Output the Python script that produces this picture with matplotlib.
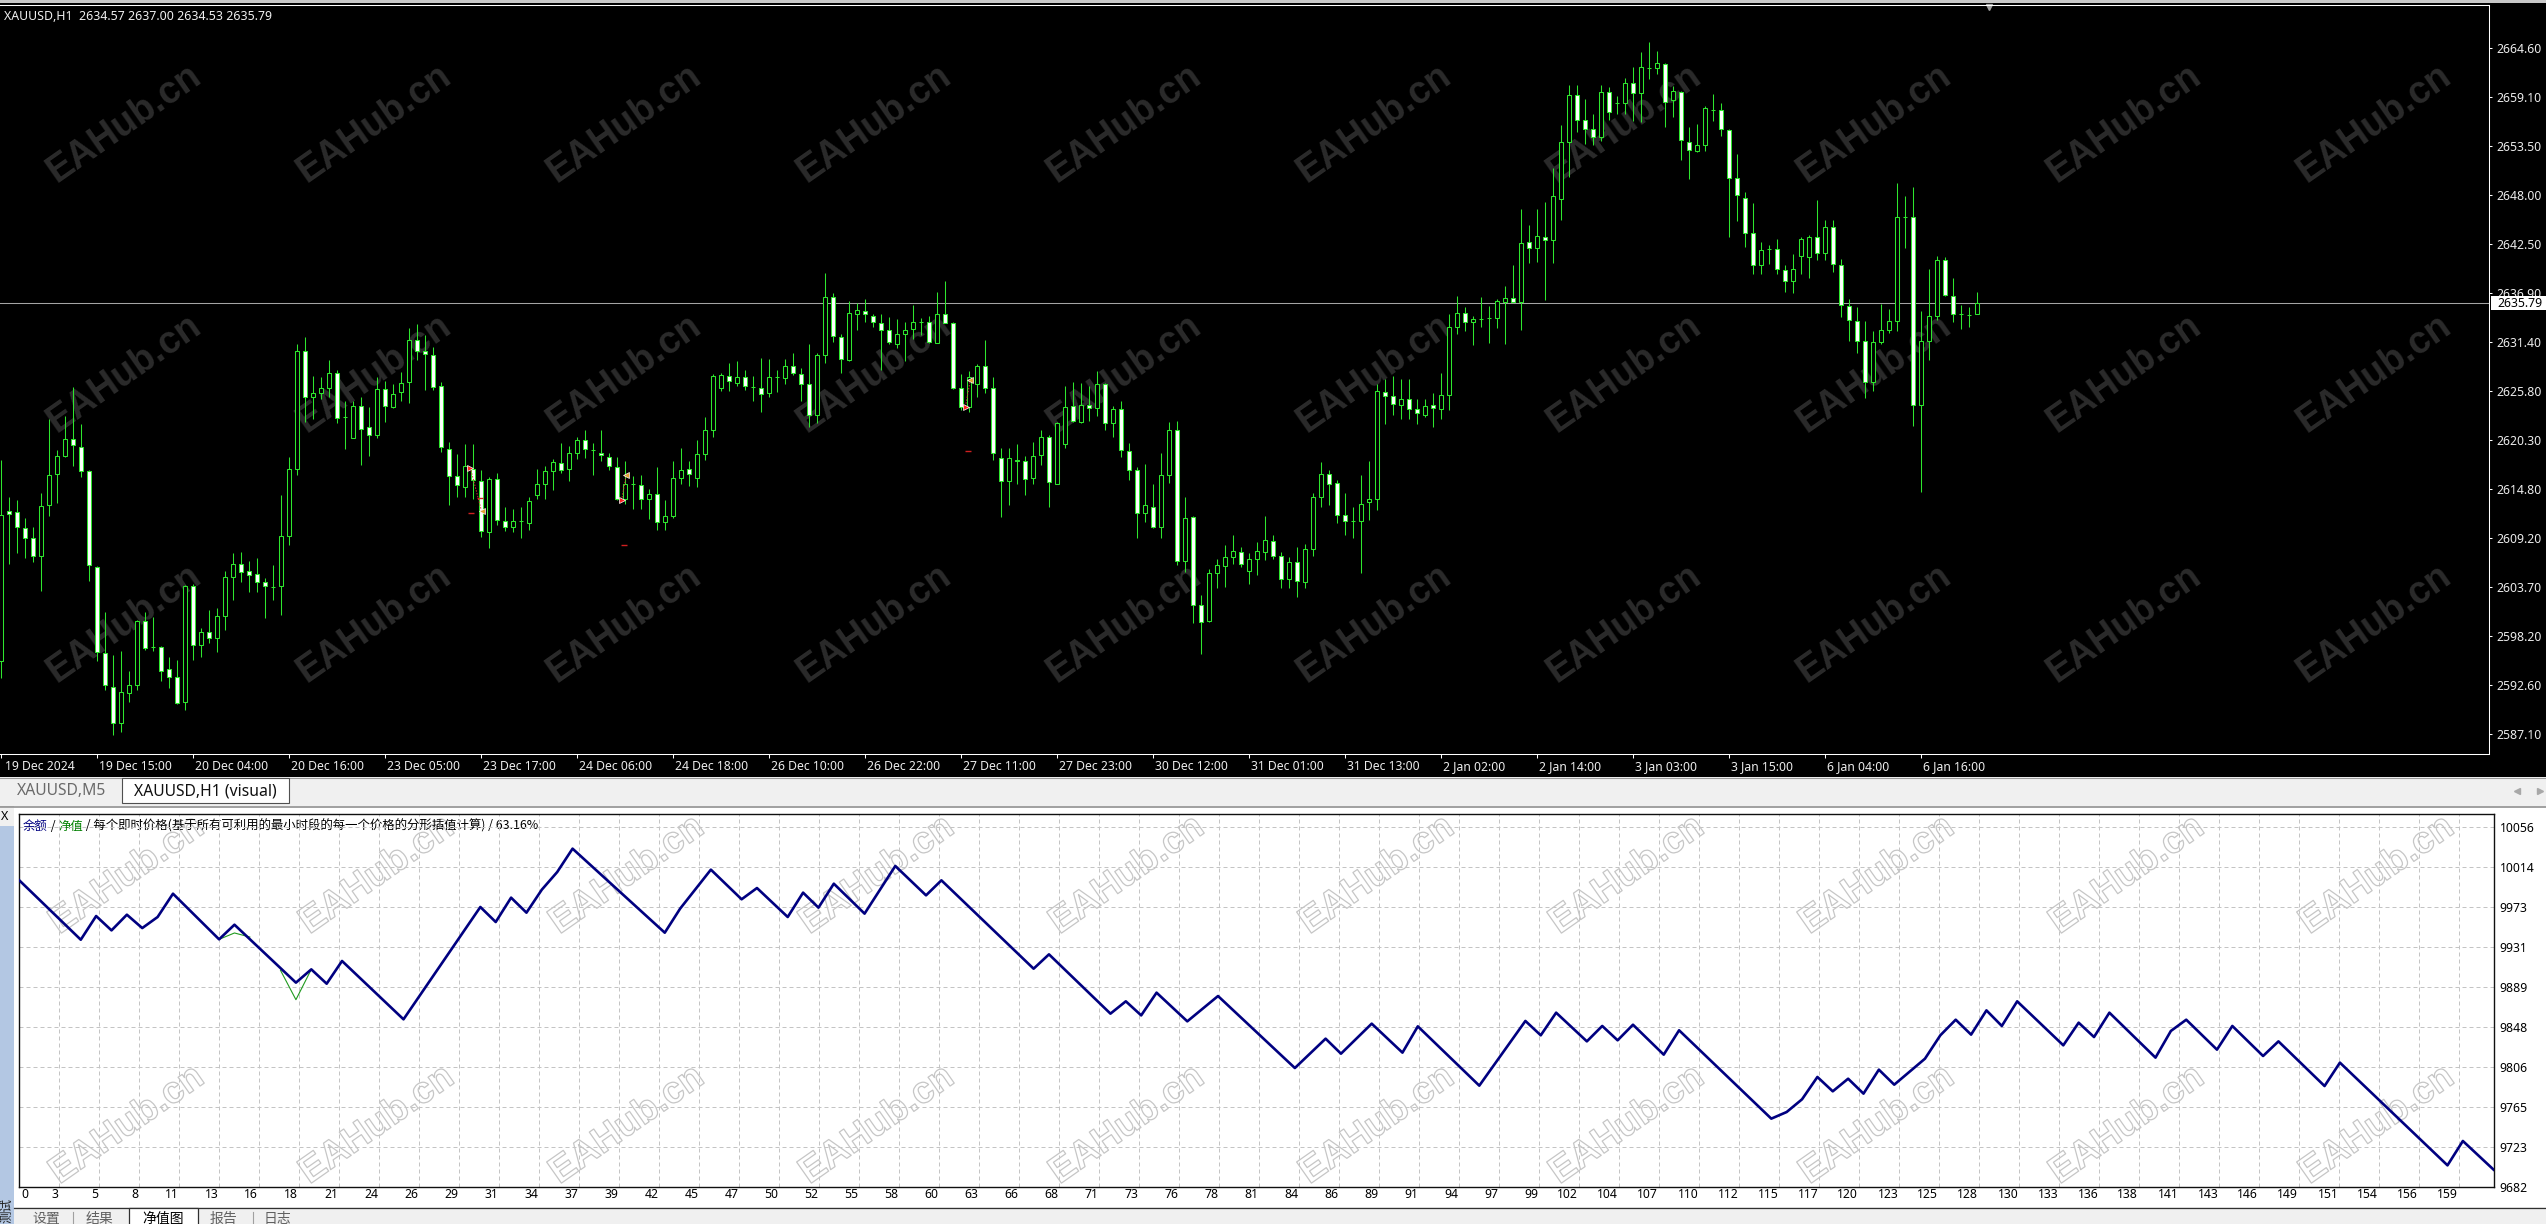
import numpy as np
import matplotlib
matplotlib.use("Agg")
import matplotlib.pyplot as plt
import matplotlib.transforms as mtrans
import matplotlib.patheffects as pe
from matplotlib.patches import Rectangle
from matplotlib.offsetbox import TextArea, HPacker, AnnotationBbox

plt.rcParams['font.family'] = ['Noto Sans', 'Noto Sans CJK SC', 'DejaVu Sans']

# ---------------- data: XAUUSD H1 candles ----------------
opens = [2595.3, 2612.3, 2612.2, 2610.4, 2609.2, 2607.2, 2613.0, 2616.5, 2618.5, 2620.4,
         2619.5, 2616.8, 2606.0, 2596.3, 2592.4, 2588.3, 2591.7, 2592.7, 2599.9, 2596.9,
         2596.9, 2594.4, 2593.6, 2590.7, 2603.8, 2597.2, 2598.6, 2597.9, 2600.4, 2604.8,
         2606.3, 2605.5, 2605.2, 2604.3, 2603.7, 2603.8, 2609.5, 2617.1, 2630.4, 2625.2,
         2625.6, 2626.2, 2627.9, 2622.9, 2620.5, 2624.2, 2621.8, 2620.9, 2626.1, 2624.1,
         2625.7, 2626.9, 2631.6, 2630.4, 2629.9, 2626.4, 2619.3, 2616.3, 2615.0, 2617.0,
         2615.7, 2609.9, 2615.9, 2611.2, 2610.5, 2611.2, 2610.9, 2614.1, 2615.4, 2616.8,
         2617.7, 2617.0, 2618.8, 2620.3, 2619.2, 2618.9, 2618.4, 2617.3, 2613.6, 2615.3,
         2615.2, 2613.7, 2614.2, 2611.1, 2611.7, 2616.0, 2617.0, 2616.0, 2618.7, 2621.4,
         2626.2, 2627.6, 2626.8, 2627.4, 2626.3, 2626.2, 2625.6, 2627.4, 2627.3, 2628.7,
         2627.8, 2626.7, 2623.2, 2629.9, 2636.5, 2632.0, 2629.4, 2634.6, 2634.9, 2634.3,
         2633.5, 2632.7, 2631.2, 2632.3, 2632.9, 2633.6, 2633.6, 2631.3, 2634.6, 2633.5,
         2626.2, 2624.1, 2626.7, 2628.7, 2626.2, 2618.3, 2615.7, 2618.1, 2617.9, 2616.0,
         2618.6, 2620.7, 2615.4, 2619.9, 2624.2, 2622.3, 2624.3, 2623.9, 2626.7, 2622.2,
         2623.8, 2619.1, 2616.9, 2612.1, 2612.8, 2610.5, 2616.4, 2621.4, 2606.6, 2611.6,
         2601.7, 2599.9, 2605.3, 2606.1, 2607.1, 2607.7, 2605.5, 2606.9, 2607.7, 2608.9,
         2607.2, 2604.6, 2606.5, 2604.3, 2608.0, 2613.9, 2616.5, 2615.5, 2611.8, 2611.2,
         2611.2, 2613.3, 2613.6, 2625.7, 2625.3, 2624.3, 2624.9, 2623.8, 2623.2, 2624.3,
         2623.8, 2625.4, 2633.1, 2634.7, 2633.6, 2634.0, 2634.1, 2634.1, 2635.9, 2636.4,
         2635.9, 2642.7, 2642.0, 2643.3, 2642.9, 2647.5, 2654.0, 2659.3, 2656.5, 2655.4,
         2654.6, 2659.6, 2658.4, 2658.4, 2660.6, 2659.5, 2662.3, 2662.3, 2662.8, 2658.7,
         2659.6, 2654.0, 2653.0, 2653.6, 2657.6, 2657.6, 2655.3, 2649.9, 2647.7, 2643.7,
         2640.1, 2641.9, 2641.9, 2639.5, 2638.3, 2641.1, 2641.0, 2643.3, 2641.4, 2644.4,
         2640.1, 2635.5, 2633.8, 2631.5, 2626.9, 2631.4, 2632.7, 2633.8, 2645.5, 2645.5,
         2624.3, 2631.5, 2634.3, 2640.7, 2636.6, 2634.6, 2634.4, 2634.57]
highs = [2618.1, 2613.9, 2613.5, 2611.5, 2610.5, 2614.3, 2622.7, 2619.2, 2623.0, 2626.3,
         2622.1, 2616.9, 2606.1, 2600.9, 2596.0, 2596.5, 2594.2, 2600.0, 2600.9, 2600.3,
         2597.1, 2595.8, 2595.5, 2603.9, 2604.0, 2599.1, 2601.1, 2601.3, 2605.5, 2607.5,
         2607.7, 2606.6, 2607.0, 2604.7, 2606.2, 2614.1, 2618.4, 2631.2, 2631.9, 2627.6,
         2627.4, 2629.4, 2628.2, 2624.7, 2624.7, 2625.2, 2624.1, 2627.4, 2627.0, 2626.7,
         2628.0, 2633.0, 2633.4, 2632.2, 2630.8, 2626.9, 2620.1, 2618.7, 2619.9, 2619.9,
         2616.9, 2616.1, 2616.6, 2612.7, 2612.5, 2612.7, 2613.9, 2617.0, 2617.4, 2618.2,
         2620.0, 2619.6, 2620.7, 2621.4, 2620.0, 2621.5, 2618.9, 2618.4, 2617.9, 2616.2,
         2616.4, 2614.8, 2617.3, 2613.5, 2617.9, 2619.4, 2618.0, 2620.3, 2622.9, 2627.8,
         2627.9, 2629.0, 2629.3, 2628.2, 2627.5, 2629.6, 2629.5, 2628.2, 2629.5, 2630.1,
         2628.4, 2631.2, 2630.1, 2639.2, 2636.9, 2632.3, 2636.0, 2635.8, 2636.2, 2634.5,
         2634.5, 2634.2, 2634.0, 2633.7, 2635.6, 2634.1, 2634.3, 2637.0, 2638.3, 2633.6,
         2627.8, 2628.1, 2628.9, 2631.6, 2627.4, 2619.4, 2619.4, 2619.9, 2618.5, 2620.1,
         2621.5, 2620.9, 2622.3, 2626.4, 2626.9, 2626.8, 2626.4, 2628.1, 2626.8, 2624.2,
         2624.7, 2620.0, 2617.3, 2617.6, 2615.4, 2618.8, 2622.4, 2622.5, 2613.9, 2611.7,
         2602.8, 2605.7, 2606.9, 2608.5, 2609.6, 2608.2, 2607.5, 2608.8, 2611.7, 2609.6,
         2607.7, 2607.1, 2608.2, 2608.6, 2614.3, 2617.8, 2616.9, 2615.8, 2614.3, 2612.8,
         2616.4, 2617.9, 2626.7, 2627.2, 2627.6, 2627.2, 2627.2, 2624.9, 2624.9, 2625.6,
         2627.9, 2634.6, 2636.6, 2635.3, 2634.3, 2636.5, 2635.5, 2636.2, 2637.7, 2640.1,
         2646.4, 2644.6, 2646.4, 2647.2, 2651.1, 2655.9, 2660.4, 2660.4, 2658.8, 2657.1,
         2660.4, 2660.2, 2659.2, 2661.2, 2662.5, 2664.1, 2665.3, 2664.3, 2662.9, 2660.3,
         2659.7, 2655.7, 2656.0, 2658.1, 2659.4, 2658.4, 2655.4, 2652.6, 2648.3, 2647.1,
         2642.7, 2642.3, 2643.0, 2640.1, 2641.3, 2643.2, 2643.5, 2647.4, 2645.2, 2645.2,
         2640.8, 2636.2, 2635.3, 2633.8, 2632.6, 2635.7, 2635.1, 2649.4, 2647.9, 2648.9,
         2634.9, 2639.6, 2641.1, 2641.0, 2638.6, 2635.6, 2635.4, 2637.00]
lows = [2593.4, 2606.3, 2607.6, 2607.0, 2606.5, 2603.3, 2611.7, 2613.2, 2618.4, 2617.4,
        2616.1, 2604.4, 2595.3, 2592.1, 2587.0, 2587.3, 2590.7, 2592.1, 2596.6, 2596.5,
        2593.1, 2592.3, 2590.5, 2589.8, 2595.5, 2595.8, 2597.4, 2596.4, 2598.9, 2602.3,
        2604.3, 2603.2, 2603.2, 2600.2, 2602.3, 2600.6, 2608.5, 2616.4, 2622.4, 2622.7,
        2625.0, 2625.2, 2622.2, 2619.3, 2620.5, 2617.5, 2618.5, 2620.5, 2622.3, 2623.9,
        2624.7, 2624.5, 2629.4, 2626.0, 2626.0, 2619.0, 2613.0, 2613.9, 2613.9, 2613.6,
        2609.4, 2608.1, 2610.7, 2610.0, 2609.9, 2609.2, 2610.2, 2613.7, 2613.6, 2614.7,
        2616.6, 2615.7, 2618.2, 2618.3, 2616.4, 2618.0, 2616.9, 2613.5, 2613.1, 2612.5,
        2612.5, 2611.4, 2610.2, 2610.1, 2611.5, 2615.3, 2615.1, 2615.0, 2618.1, 2620.7,
        2625.8, 2625.8, 2626.4, 2626.0, 2624.7, 2623.5, 2625.2, 2625.7, 2626.7, 2627.7,
        2624.7, 2621.8, 2622.2, 2629.0, 2631.4, 2627.9, 2629.3, 2632.7, 2633.7, 2633.1,
        2628.2, 2631.2, 2630.7, 2629.2, 2631.7, 2632.2, 2631.3, 2631.3, 2633.5, 2626.1,
        2623.7, 2623.5, 2625.2, 2625.6, 2618.1, 2611.6, 2613.0, 2615.4, 2614.1, 2615.4,
        2617.5, 2612.7, 2615.4, 2619.4, 2622.4, 2622.2, 2622.5, 2623.0, 2621.5, 2620.7,
        2618.4, 2615.8, 2609.3, 2611.1, 2610.4, 2609.2, 2615.5, 2606.2, 2605.4, 2599.7,
        2596.2, 2599.8, 2603.6, 2603.7, 2606.3, 2606.0, 2604.1, 2605.1, 2606.8, 2606.9,
        2603.6, 2603.6, 2602.6, 2603.6, 2607.2, 2612.8, 2613.0, 2610.9, 2609.6, 2609.3,
        2605.3, 2611.3, 2612.4, 2622.1, 2623.2, 2622.7, 2622.7, 2622.1, 2622.9, 2621.8,
        2622.7, 2623.7, 2632.3, 2632.6, 2631.1, 2633.1, 2631.3, 2633.0, 2631.2, 2635.9,
        2632.7, 2640.3, 2640.4, 2636.1, 2640.3, 2645.2, 2650.0, 2655.1, 2653.8, 2653.6,
        2654.1, 2656.5, 2657.2, 2657.2, 2656.4, 2656.2, 2661.1, 2661.7, 2655.7, 2656.8,
        2651.9, 2649.8, 2652.8, 2653.0, 2656.4, 2654.7, 2643.3, 2645.1, 2642.1, 2639.1,
        2639.1, 2640.2, 2639.1, 2637.0, 2636.9, 2639.1, 2638.6, 2640.7, 2640.7, 2639.3,
        2634.2, 2631.5, 2630.2, 2625.1, 2625.9, 2631.2, 2632.4, 2632.6, 2642.0, 2621.9,
        2614.5, 2629.4, 2633.9, 2636.6, 2633.7, 2632.9, 2633.1, 2634.53]
closes = [2611.9, 2612.0, 2610.5, 2609.2, 2607.2, 2612.9, 2616.4, 2618.5, 2620.4, 2619.7,
          2616.8, 2606.2, 2596.4, 2592.7, 2588.4, 2591.8, 2592.7, 2599.9, 2596.8, 2596.9,
          2594.2, 2593.6, 2590.6, 2603.8, 2597.2, 2598.6, 2597.9, 2600.4, 2604.8, 2606.3,
          2605.4, 2605.1, 2604.3, 2603.8, 2603.7, 2609.5, 2617.1, 2630.4, 2625.2, 2625.6,
          2626.2, 2627.9, 2622.8, 2622.9, 2624.2, 2621.6, 2620.9, 2626.1, 2624.2, 2625.5,
          2626.8, 2631.6, 2630.4, 2630.0, 2626.3, 2619.5, 2616.2, 2615.2, 2617.4, 2615.8,
          2610.0, 2615.9, 2611.3, 2610.5, 2611.2, 2611.2, 2613.4, 2615.4, 2616.8, 2617.8,
          2616.9, 2618.8, 2620.3, 2619.3, 2619.2, 2618.6, 2617.4, 2613.6, 2615.4, 2615.3,
          2613.7, 2614.2, 2611.1, 2611.7, 2616.0, 2616.9, 2616.5, 2618.7, 2621.4, 2627.5,
          2627.7, 2627.0, 2627.4, 2626.4, 2626.3, 2625.5, 2627.4, 2627.4, 2628.7, 2627.9,
          2626.7, 2623.2, 2629.9, 2636.5, 2632.1, 2629.5, 2634.7, 2635.0, 2634.5, 2633.6,
          2632.7, 2631.4, 2632.3, 2632.8, 2633.7, 2633.6, 2631.4, 2634.6, 2633.5, 2626.2,
          2624.1, 2627.4, 2628.7, 2626.2, 2618.8, 2615.7, 2618.3, 2617.9, 2615.9, 2618.5,
          2620.7, 2615.6, 2622.2, 2624.1, 2622.5, 2624.3, 2623.9, 2626.7, 2622.2, 2623.8,
          2619.2, 2616.9, 2612.1, 2613.0, 2610.5, 2616.4, 2621.4, 2606.6, 2611.5, 2601.7,
          2599.8, 2605.3, 2606.2, 2607.1, 2607.8, 2606.3, 2606.9, 2607.8, 2609.0, 2607.2,
          2604.6, 2606.5, 2604.4, 2608.0, 2613.9, 2616.5, 2615.3, 2611.9, 2611.2, 2611.2,
          2613.1, 2613.6, 2625.8, 2625.3, 2624.4, 2624.9, 2623.8, 2623.4, 2624.2, 2623.9,
          2625.4, 2633.1, 2634.7, 2633.7, 2634.0, 2634.0, 2634.1, 2636.0, 2636.4, 2635.9,
          2642.6, 2642.0, 2643.4, 2642.9, 2647.9, 2654.0, 2659.3, 2656.5, 2655.4, 2654.6,
          2659.6, 2657.4, 2658.4, 2660.6, 2659.5, 2662.4, 2662.3, 2662.9, 2658.5, 2659.7,
          2654.2, 2653.1, 2653.6, 2657.8, 2657.6, 2655.4, 2649.9, 2648.0, 2643.7, 2640.1,
          2641.8, 2641.9, 2639.6, 2638.3, 2639.6, 2643.0, 2643.2, 2641.4, 2644.4, 2640.2,
          2635.6, 2633.9, 2631.5, 2626.9, 2631.4, 2632.7, 2633.8, 2645.5, 2645.5, 2624.3,
          2631.5, 2634.3, 2640.7, 2636.7, 2634.6, 2634.6, 2634.4, 2635.79]

date_bar_index = [0, 12, 24, 36, 48, 60, 72, 84, 96, 108, 120, 132, 144, 156, 168,
                  180, 192, 204, 216, 228, 240]
date_labels = ["19 Dec 2024", "19 Dec 15:00", "20 Dec 04:00", "20 Dec 16:00", "23 Dec 05:00",
               "23 Dec 17:00", "24 Dec 06:00", "24 Dec 18:00", "26 Dec 10:00", "26 Dec 22:00",
               "27 Dec 11:00", "27 Dec 23:00", "30 Dec 12:00", "31 Dec 01:00", "31 Dec 13:00",
               "2 Jan 02:00", "2 Jan 14:00", "3 Jan 03:00", "3 Jan 15:00", "6 Jan 04:00",
               "6 Jan 16:00"]
price_ticks = [2664.60, 2659.10, 2653.50, 2648.00, 2642.50, 2636.90, 2631.40, 2625.80,
               2620.30, 2614.80, 2609.20, 2603.70, 2598.20, 2592.60, 2587.10]
last_price = 2635.79
header = "XAUUSD,H1  2634.57 2637.00 2634.53 2635.79"

# trade arrows on the price chart
open_bar = [58.7, 77.6, 120.6]
open_price = [2617.2, 2613.5, 2624.1]
close_bar = [60.1, 78.2, 121.2]
close_price = [2612.3, 2616.4, 2627.1]
level_bar = [58.8, 59.9, 77.9, 120.9]
level_price = [2612.1, 2613.8, 2608.5, 2619.1]

# ---------------- data: tester balance / equity ----------------
balance_trade = [0, 4, 5, 6, 7, 8, 9, 10, 13, 14, 18, 19, 20, 21, 25, 30, 31, 32, 33, 34,
                 35, 36, 42, 43, 45, 47, 48, 50, 51, 52, 53, 55, 57, 59, 60, 66, 67, 71, 72, 73,
                 74, 76, 78, 83, 85, 86, 88, 90, 91, 95, 98, 99, 100, 102, 103, 104, 105, 107,
                 108, 114, 115, 116, 117, 118, 119, 120, 121, 122, 124, 125, 126, 127, 128,
                 129, 130, 133, 134, 135, 136, 139, 140, 141, 143, 144, 146, 147, 150, 151,
                 158, 159, 161]
balance_value = [10000.6, 9938.9, 9963.5, 9948.6, 9964.9, 9951.0, 9962.5, 9986.7, 9939.3,
                 9954.5, 9894.3, 9908.1, 9893.2, 9916.8, 9856.2, 9972.9, 9957.3, 9982.6,
                 9967.0, 9990.9, 10009.2, 10033.5, 9946.2, 9971.2, 10011.7, 9980.9, 9992.6,
                 9962.5, 9987.8, 9972.2, 9997.1, 9966.0, 10015.5, 9985.0, 10000.6, 9908.8,
                 9923.7, 9862.1, 9874.9, 9860.3, 9883.9, 9854.1, 9880.4, 9805.6, 9836.1,
                 9820.5, 9851.7, 9821.6, 9848.9, 9787.3, 9854.5, 9839.6, 9863.1, 9833.3,
                 9849.3, 9834.4, 9850.6, 9819.5, 9844.8, 9753.0, 9759.9, 9773.1, 9796.3,
                 9781.4, 9794.5, 9779.0, 9803.9, 9788.3, 9815.3, 9839.6, 9855.8, 9840.3,
                 9865.5, 9849.3, 9874.9, 9829.2, 9852.7, 9837.8, 9863.1, 9816.4, 9844.1,
                 9855.8, 9824.7, 9849.3, 9818.1, 9833.3, 9786.9, 9811.2, 9704.5, 9729.8,
                 9700.0]
equity_a_trade = [13, 14, 15]
equity_a_value = [9939.3, 9945.9, 9941.7]
equity_b_trade = [17, 18, 19]
equity_b_value = [9907.0, 9876.6, 9908.1]
n_trades = 161
eq_y_labels = ['9682', '9723', '9765', '9806', '9848', '9889', '9931', '9973', '10014', '10056']
eq_y_low, eq_y_high = 9682, 10056
eq_x_labels = ['0', '3', '5', '8', '11', '13', '16', '18', '21', '24', '26', '29', '31', '34',
               '37', '39', '42', '45', '47', '50', '52', '55', '58', '60', '63', '66', '68',
               '71', '73', '76', '78', '81', '84', '86', '89', '91', '94', '97', '99', '102',
               '104', '107', '110', '112', '115', '117', '120', '123', '125', '128', '130',
               '133', '136', '138', '141', '143', '146', '149', '151', '154', '156', '159']
eq_title = [("余额", '#000080'), (" / ", '#000000'), ("净值", '#008000'),
            (" / 每个即时价格(基于所有可利用的最小时段的每一个价格的分形插值计算) / 63.16%", '#000000')]

# ---------------- layout helpers ----------------
W, H = 2546, 1224
GREEN = '#2ee62e'
fig = plt.figure(figsize=(W / 100, H / 100), dpi=100, facecolor='black')


def rect(x0, y0, x1, y1):
    return [x0 / W, 1 - y1 / H, (x1 - x0) / W, (y1 - y0) / H]


ax_bg = fig.add_axes([0, 0, 1, 1], zorder=0)
ax_bg.set_xlim(0, W)
ax_bg.set_ylim(H, 0)
ax_bg.axis('off')


def box(x0, y0, x1, y1, fc, ec='none', lw=0.0, z=1):
    ax_bg.add_patch(Rectangle((x0, y0), x1 - x0, y1 - y0, facecolor=fc, edgecolor=ec,
                              linewidth=lw, zorder=z))


box(0, 0, W, 2.5, '#c8c8c8')
# chart tab strip
box(0, 777, W, 806, '#f0f0f0')
ax_bg.plot([0, W], [777.5, 777.5], color='#9a9a9a', lw=0.8, zorder=2)
box(122, 777.5, 289, 803, 'white', ec='#505050', lw=0.8, z=3)
ax_bg.text(17, 791, "XAUUSD,M5", color='#6a6a6a', fontsize=11.3, va='center', zorder=4)
ax_bg.text(134, 791, "XAUUSD,H1 (visual)", color='#101010', fontsize=11.3, va='center', zorder=4)
ax_bg.plot([2517], [791], marker='<', ms=5, color='#a8a8a8', zorder=4)
ax_bg.plot([2540], [791], marker='>', ms=5, color='#a8a8a8', zorder=4)
# tester panel
box(14, 806, W, 1207, 'white')
ax_bg.plot([0, W], [806.5, 806.5], color='#a0a0a0', lw=1.4, zorder=2)
box(0, 807, 14, 826, '#f0f0f0')
box(0, 826, 14, H, '#b3c7e3')
ax_bg.text(5, 816, "X", color='black', fontsize=9, ha='center', va='center', zorder=4)
ax_bg.text(7, 1223, "测试", color='#202020', fontsize=9, rotation=90, ha='center', va='bottom',
           family=['Noto Sans CJK SC'], zorder=4)
box(14, 1207, W, H, '#f0f0f0')
ax_bg.plot([14, W], [1207.5, 1207.5], color='#303030', lw=0.9, zorder=2)
box(129, 1207.5, 198, H + 3, 'white', ec='#303030', lw=0.9, z=3)
tab_font = dict(fontsize=10, va='center', family=['Noto Sans CJK SC'], zorder=4)
ax_bg.text(32, 1219, "设置", color='#606060', **tab_font)
ax_bg.text(86, 1219, "结果", color='#606060', **tab_font)
ax_bg.text(142, 1219, "净值图", color='#000000', **tab_font)
ax_bg.text(210, 1219, "报告", color='#606060', **tab_font)
ax_bg.text(264, 1219, "日志", color='#606060', **tab_font)
for sx in (73, 253):
    ax_bg.plot([sx, sx], [1212, H], color='#a0a0a0', lw=0.8, zorder=4)

# watermarks
for j in range(5):
    for i in range(10):
        cx, cy = 124 + 250 * i, 123 + 250 * j
        if cy < 777:
            ax_bg.text(cx, cy, "EAHub.cn", color='#2b2b2b', fontsize=27, fontweight='bold',
                       family=['Liberation Sans'], rotation=35, rotation_mode='anchor',
                       ha='center', va='center', zorder=2)
        else:
            t = ax_bg.text(cx + 3, cy + 2, "EAHub.cn", color=(1, 1, 1, 0), fontsize=27,
                           fontweight='bold', family=['Liberation Sans'], rotation=35,
                           rotation_mode='anchor', ha='center', va='center', zorder=2)
            t.set_path_effects([pe.Stroke(linewidth=0.9, foreground='#c6c6c6')])

ax_bg.text(4, 16, header, color='#f0f0f0', fontsize=8.9, va='center', zorder=4)
ax_bg.plot([1989], [7], marker='v', ms=4.5, color='#a0a0a0', zorder=4)

# ---------------- price chart ----------------
ax = fig.add_axes(rect(0, 5, 2489, 754), zorder=2)
ax.patch.set_alpha(0)
o = np.array(opens)
h = np.array(highs)
l = np.array(lows)
c = np.array(closes)
idx = np.arange(len(o))
ax.set_xlim(-0.7 / 8, (2489 - 0.7) / 8)
ax.set_ylim(2584.85, 2669.46)
ax.axhline(last_price, color='#a4a4a4', lw=0.75, zorder=1)
ax.vlines(idx, l, h, color=GREEN, lw=0.75, zorder=2)
bull = c >= o
ax.bar(idx[bull], (c - o)[bull], bottom=o[bull], width=0.5, facecolor='black',
       edgecolor=GREEN, linewidth=0.75, zorder=3)
ax.bar(idx[~bull], (o - c)[~bull], bottom=c[~bull], width=0.5, facecolor='white',
       edgecolor=GREEN, linewidth=0.75, zorder=3)

# trade arrows
for xb, yb, xe, ye in zip(open_bar, open_price, close_bar, close_price):
    ax.plot([xb, xe], [yb, ye], color='#e03030', lw=0.7, linestyle=(0, (1.5, 1.5)), zorder=4)
ax.plot(open_bar, open_price, linestyle='none', marker='>', ms=5, color='#ff2020',
        markeredgecolor='white', markeredgewidth=0.5, zorder=5)
ax.plot(close_bar, close_price, linestyle='none', marker='<', ms=5, color='#e0a030',
        markeredgecolor='white', markeredgewidth=0.5, zorder=5)
ax.plot(level_bar, level_price, linestyle='none', marker='_', ms=5, color='#d02020',
        markeredgewidth=1.0, zorder=5)

for s in ('top', 'right', 'bottom'):
    ax.spines[s].set_color('white')
    ax.spines[s].set_linewidth(0.75)
ax.spines['left'].set_visible(False)
ax.yaxis.tick_right()
ax.set_yticks(price_ticks)
ax.set_yticklabels([f"{v:.2f}" for v in price_ticks])
ax.tick_params(axis='y', colors='white', labelcolor='#ececec', length=2.4, width=0.75,
               pad=3.2, labelsize=8.8)
ax.set_xticks(date_bar_index)
ax.set_xticklabels(date_labels)
ax.tick_params(axis='x', colors='white', labelcolor='#ececec', length=3, width=0.75,
               pad=1.0, labelsize=8.8)
for k, lab in enumerate(ax.get_xticklabels()):
    dx = 4 if k == 0 else 2
    lab.set_ha('left')
    lab.set_transform(lab.get_transform() +
                      mtrans.ScaledTranslation(dx / 100, 0, fig.dpi_scale_trans))

blend = mtrans.blended_transform_factory(ax.transAxes, ax.transData)
ax.add_patch(Rectangle((1 + 2 / 2489, last_price - 7 / 8.852), 60 / 2489, 14 / 8.852,
                       transform=blend, facecolor='white', edgecolor='none', clip_on=False,
                       zorder=10))
ax.text(1 + 8 / 2489, last_price, f"{last_price:.2f}", transform=blend, color='black',
        fontsize=8.8, va='center', ha='left', clip_on=False, zorder=11)

# ---------------- equity chart ----------------
EX0, EY0, EX1, EY1 = 19.3, 814, 2493.6, 1187
ax2 = fig.add_axes(rect(EX0, EY0, EX1, EY1), zorder=2)
ax2.patch.set_alpha(0)
px_per_trade = (EX1 - EX0) / n_trades
ax2.set_xlim(0, n_trades)
ax2.set_ylim(eq_y_low, eq_y_low + (EY1 - EY0) * (eq_y_high - eq_y_low) / 360)
ax2.plot(equity_a_trade, equity_a_value, color='#1f9a1f', lw=0.8, zorder=3)
ax2.plot(equity_b_trade, equity_b_value, color='#1f9a1f', lw=0.8, zorder=3)
ax2.plot(balance_trade, balance_value, color='#000080', lw=1.9, zorder=4,
         solid_joinstyle='round')
xt = np.arange(len(eq_x_labels)) * 40 / px_per_trade
ax2.set_xticks(xt)
ax2.set_xticklabels(eq_x_labels)
ax2.set_yticks(np.linspace(eq_y_low, eq_y_high, len(eq_y_labels)))
ax2.set_yticklabels(eq_y_labels)
ax2.yaxis.tick_right()
ax2.tick_params(axis='both', length=0, labelsize=8.8, colors='black')
ax2.tick_params(axis='y', pad=4.3)
ax2.tick_params(axis='x', pad=1.0)
ax2.grid(True, color='#c4c4c4', lw=0.72, linestyle=(0, (4, 3)))
ax2.set_axisbelow(True)
for s in ax2.spines.values():
    s.set_color('#101010')
    s.set_linewidth(1.0)
left_shift = mtrans.ScaledTranslation(-1 / 100, 0, fig.dpi_scale_trans)
xlabs = ax2.get_xticklabels()
for k, lab in enumerate(xlabs):
    if k == 0:
        lab.set_ha('left')
        lab.set_transform(lab.get_transform() + mtrans.ScaledTranslation(2 / 100, 0, fig.dpi_scale_trans))
    else:
        lab.set_ha('right')
        lab.set_transform(lab.get_transform() + left_shift)

boxes = [TextArea(s, textprops=dict(color=col, fontsize=8.95, family=['Noto Sans CJK SC']))
         for s, col in eq_title]
pack = HPacker(children=boxes, align='center', pad=0, sep=0)
ab = AnnotationBbox(pack, (23, 826), xycoords=ax_bg.transData, box_alignment=(0, 0.5),
                    frameon=False, pad=0, zorder=5)
ax_bg.add_artist(ab)

fig.savefig("out.png", dpi=100, facecolor=fig.get_facecolor())
